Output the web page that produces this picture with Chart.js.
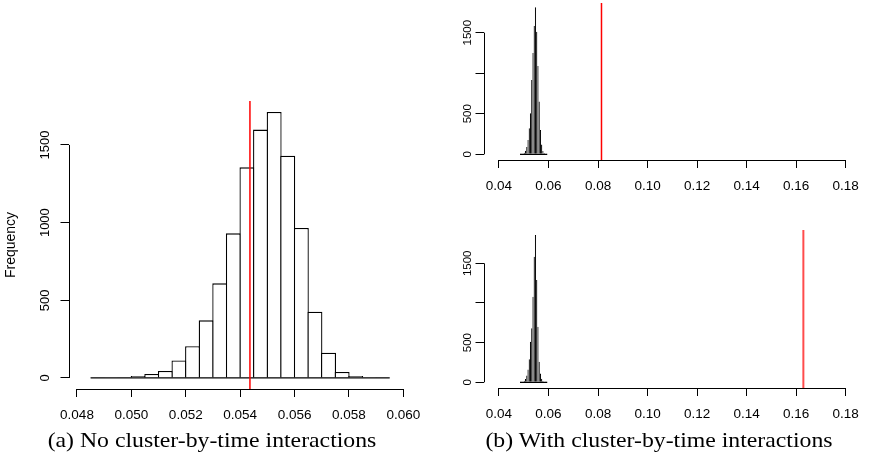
<!DOCTYPE html>
<html lang="en">
<head>
<meta charset="UTF-8" />
<title>Permutation histograms</title>
<script src="https://cdn.jsdelivr.net/npm/chart.js"></script>
<style>
  body { margin: 0; background: #fff; }
  #wrap { position: relative; width: 869px; height: 462px; overflow: hidden; }
  canvas { position: absolute; }
  .cap {
    position: absolute;
    font-family: "Liberation Serif", "Times New Roman", serif;
    font-size: 22px;
    line-height: 1;
    color: #000;
    white-space: nowrap;
    transform: translateX(-50%) scaleX(1.08);
  }
</style>
</head>
<body>
<div id="wrap">
  <canvas id="histA" width="440" height="350" style="left:0;top:80px"></canvas>
  <canvas id="histB1" width="429" height="210" style="left:440px;top:0"></canvas>
  <canvas id="histB2" width="429" height="215" style="left:440px;top:215px"></canvas>
  <div class="cap" style="left:212px;top:429px">(a) No cluster-by-time interactions</div>
  <div class="cap" style="left:659px;top:429px">(b) With cluster-by-time interactions</div>
</div>

<script>
  // bin mid points, bins are 0.0005 wide
  const binWidth = 0.0005;
  const bins = [0.04875, 0.04925, 0.04975, 0.05025, 0.05075, 0.05125, 0.05175, 0.05225,
                0.05275, 0.05325, 0.05375, 0.05425, 0.05475, 0.05525, 0.05575, 0.05625,
                0.05675, 0.05725, 0.05775, 0.05825, 0.05875, 0.05925];

  // (a) no interactions
  const countsA = [2, 3, 4, 13, 26, 45, 112, 204, 371, 609, 931, 1356,
                   1599, 1712, 1431, 966, 427, 163, 39, 13, 5, 2];
  // (b) with interactions, top and bottom panels
  const countsB1 = [3, 5, 10, 20, 45, 90, 177, 320, 506, 917, 1250, 1583,
                    1813, 1513, 1090, 650, 300, 120, 40, 15, 6, 2];
  const countsB2 = [2, 4, 8, 18, 40, 85, 160, 290, 512, 680, 1080, 1584,
                    1857, 1290, 700, 260, 110, 45, 15, 6, 3, 1];

  // observed statistic (red line)
  const obsA = 0.05436;
  const obsB1 = 0.0814;
  const obsB2 = 0.1629;

  const xTicksA = [0.048, 0.050, 0.052, 0.054, 0.056, 0.058, 0.060];
  const xLabelsA = ["0.048", "0.050", "0.052", "0.054", "0.056", "0.058", "0.060"];
  const xTicksB = [0.04, 0.06, 0.08, 0.10, 0.12, 0.14, 0.16, 0.18];
  const xLabelsB = ["0.04", "0.06", "0.08", "0.10", "0.12", "0.14", "0.16", "0.18"];
  const yTicks = [0, 500, 1000, 1500];
  const yLabelsA = ["0", "500", "1000", "1500"];
  const yLabelsB = ["0", "500", "", "1500"];

  const sans = "'Liberation Sans', Arial, sans-serif";

  // R style axes: the line only runs from first to last tick
  const axisLines = {
    id: "axisLines",
    afterDraw(chart) {
      const { ctx, chartArea, scales } = chart;
      const xs = scales.x, ys = scales.y;
      const bx = Math.round(chartArea.left - 0.5) + 0.5;
      const by = Math.round(chartArea.bottom - 0.5) + 0.5;
      ctx.save();
      ctx.strokeStyle = "#000";
      ctx.lineWidth = 1;
      ctx.beginPath();
      ctx.moveTo(xs.getPixelForValue(xs.ticks[0].value), by);
      ctx.lineTo(xs.getPixelForValue(xs.ticks[xs.ticks.length - 1].value), by);
      ctx.moveTo(bx, ys.getPixelForValue(ys.ticks[0].value));
      ctx.lineTo(bx, ys.getPixelForValue(ys.ticks[ys.ticks.length - 1].value));
      ctx.stroke();
      ctx.restore();
    }
  };

  function makeHist(id, counts, obs, o) {
    const lo = bins[0] - binWidth / 2;
    const hi = bins[bins.length - 1] + binWidth / 2;
    return new Chart(document.getElementById(id), {
      type: "bar",
      data: {
        datasets: [
          {
            type: "line",
            data: [{ x: obs, y: o.ymin }, { x: obs, y: o.ymax }],
            borderColor: o.red,
            borderWidth: o.redWidth,
            pointRadius: 0,
            order: 0
          },
          {
            // bottom edge of all bins, also shows the near-empty ones
            type: "line",
            data: [{ x: lo, y: 0 }, { x: hi, y: 0 }],
            borderColor: "#000",
            borderWidth: 1.3,
            pointRadius: 0,
            order: 1
          },
          {
            type: "bar",
            data: bins.map((b, i) => ({ x: b, y: counts[i] })),
            backgroundColor: o.fill,
            borderColor: "#000000",
            borderWidth: o.bw,
            borderSkipped: "start",
            inflateAmount: 0,
            barPercentage: o.barPct,
            categoryPercentage: 1,
            order: 2
          }
        ]
      },
      options: {
        responsive: false,
        animation: false,
        devicePixelRatio: 1,
        events: [],
        layout: { padding: o.pad },
        plugins: { legend: { display: false }, tooltip: { enabled: false } },
        scales: {
          x: {
            type: "linear",
            min: o.xmin,
            max: o.xmax,
            offset: false,
            border: { display: false },
            grid: { display: true, offset: false, drawOnChartArea: false, drawTicks: true,
                    tickLength: 8, color: "#000", lineWidth: 1 },
            ticks: {
              autoSkip: false, maxRotation: 0, padding: 10, color: "#000",
              font: { family: sans, size: 13.5 },
              callback: (v, i) => o.xLabels[i]
            },
            afterBuildTicks: s => { s.ticks = o.xTicks.map(v => ({ value: v })); },
            afterFit: s => { s.height = o.xh; }
          },
          y: {
            type: "linear",
            min: o.ymin,
            max: o.ymax,
            border: { display: false },
            grid: { display: true, drawOnChartArea: false, drawTicks: true,
                    tickLength: 8.5, color: "#000", lineWidth: 1 },
            ticks: {
              minRotation: 90, maxRotation: 90, crossAlign: "center", padding: o.ypad,
              color: "#000", font: { family: sans, size: o.yfont },
              callback: (v, i) => o.yLabels[i]
            },
            title: {
              display: !!o.ytitle,
              text: o.ytitle || "",
              color: "#000",
              font: { family: sans, size: 14 },
              padding: { top: 3, bottom: 0 }
            },
            afterBuildTicks: s => { s.ticks = yTicks.map(v => ({ value: v })); },
            afterFit: s => { s.width = o.yw; }
          }
        }
      },
      plugins: [axisLines]
    });
  }

  makeHist("histA", countsA, obsA, {
    xmin: 0.047706, xmax: 0.060283, ymin: -71, ymax: 1783,
    xTicks: xTicksA, xLabels: xLabelsA, yLabels: yLabelsA,
    pad: { left: 0, top: 21, right: 29, bottom: 0 }, xh: 41, yw: 69,
    yfont: 13, ypad: 1,
    ytitle: "Frequency",
    fill: "#ffffff", bw: 1.3, barPct: 1.1, red: "#ff0000", redWidth: 1.5
  });

  makeHist("histB1", countsB1, obsB1, {
    xmin: 0.033966, xmax: 0.183037, ymin: -70, ymax: 1866,
    xTicks: xTicksB, xLabels: xLabelsB, yLabels: yLabelsB,
    pad: { left: 0, top: 3, right: 7, bottom: 0 }, xh: 50, yw: 44,
    yfont: 11.5, ypad: -5.5,
    fill: "#333333", bw: 0.6, barPct: 1, red: "#ff0000", redWidth: 1.5
  });

  makeHist("histB2", countsB2, obsB2, {
    xmin: 0.033966, xmax: 0.183037, ymin: -72, ymax: 1920,
    xTicks: xTicksB, xLabels: xLabelsB, yLabels: yLabelsB,
    pad: { left: 0, top: 15, right: 7, bottom: 0 }, xh: 42, yw: 44,
    yfont: 11.5, ypad: -5.5,
    fill: "#333333", bw: 0.6, barPct: 1, red: "rgba(255,0,0,0.7)", redWidth: 2
  });
</script>
</body>
</html>
